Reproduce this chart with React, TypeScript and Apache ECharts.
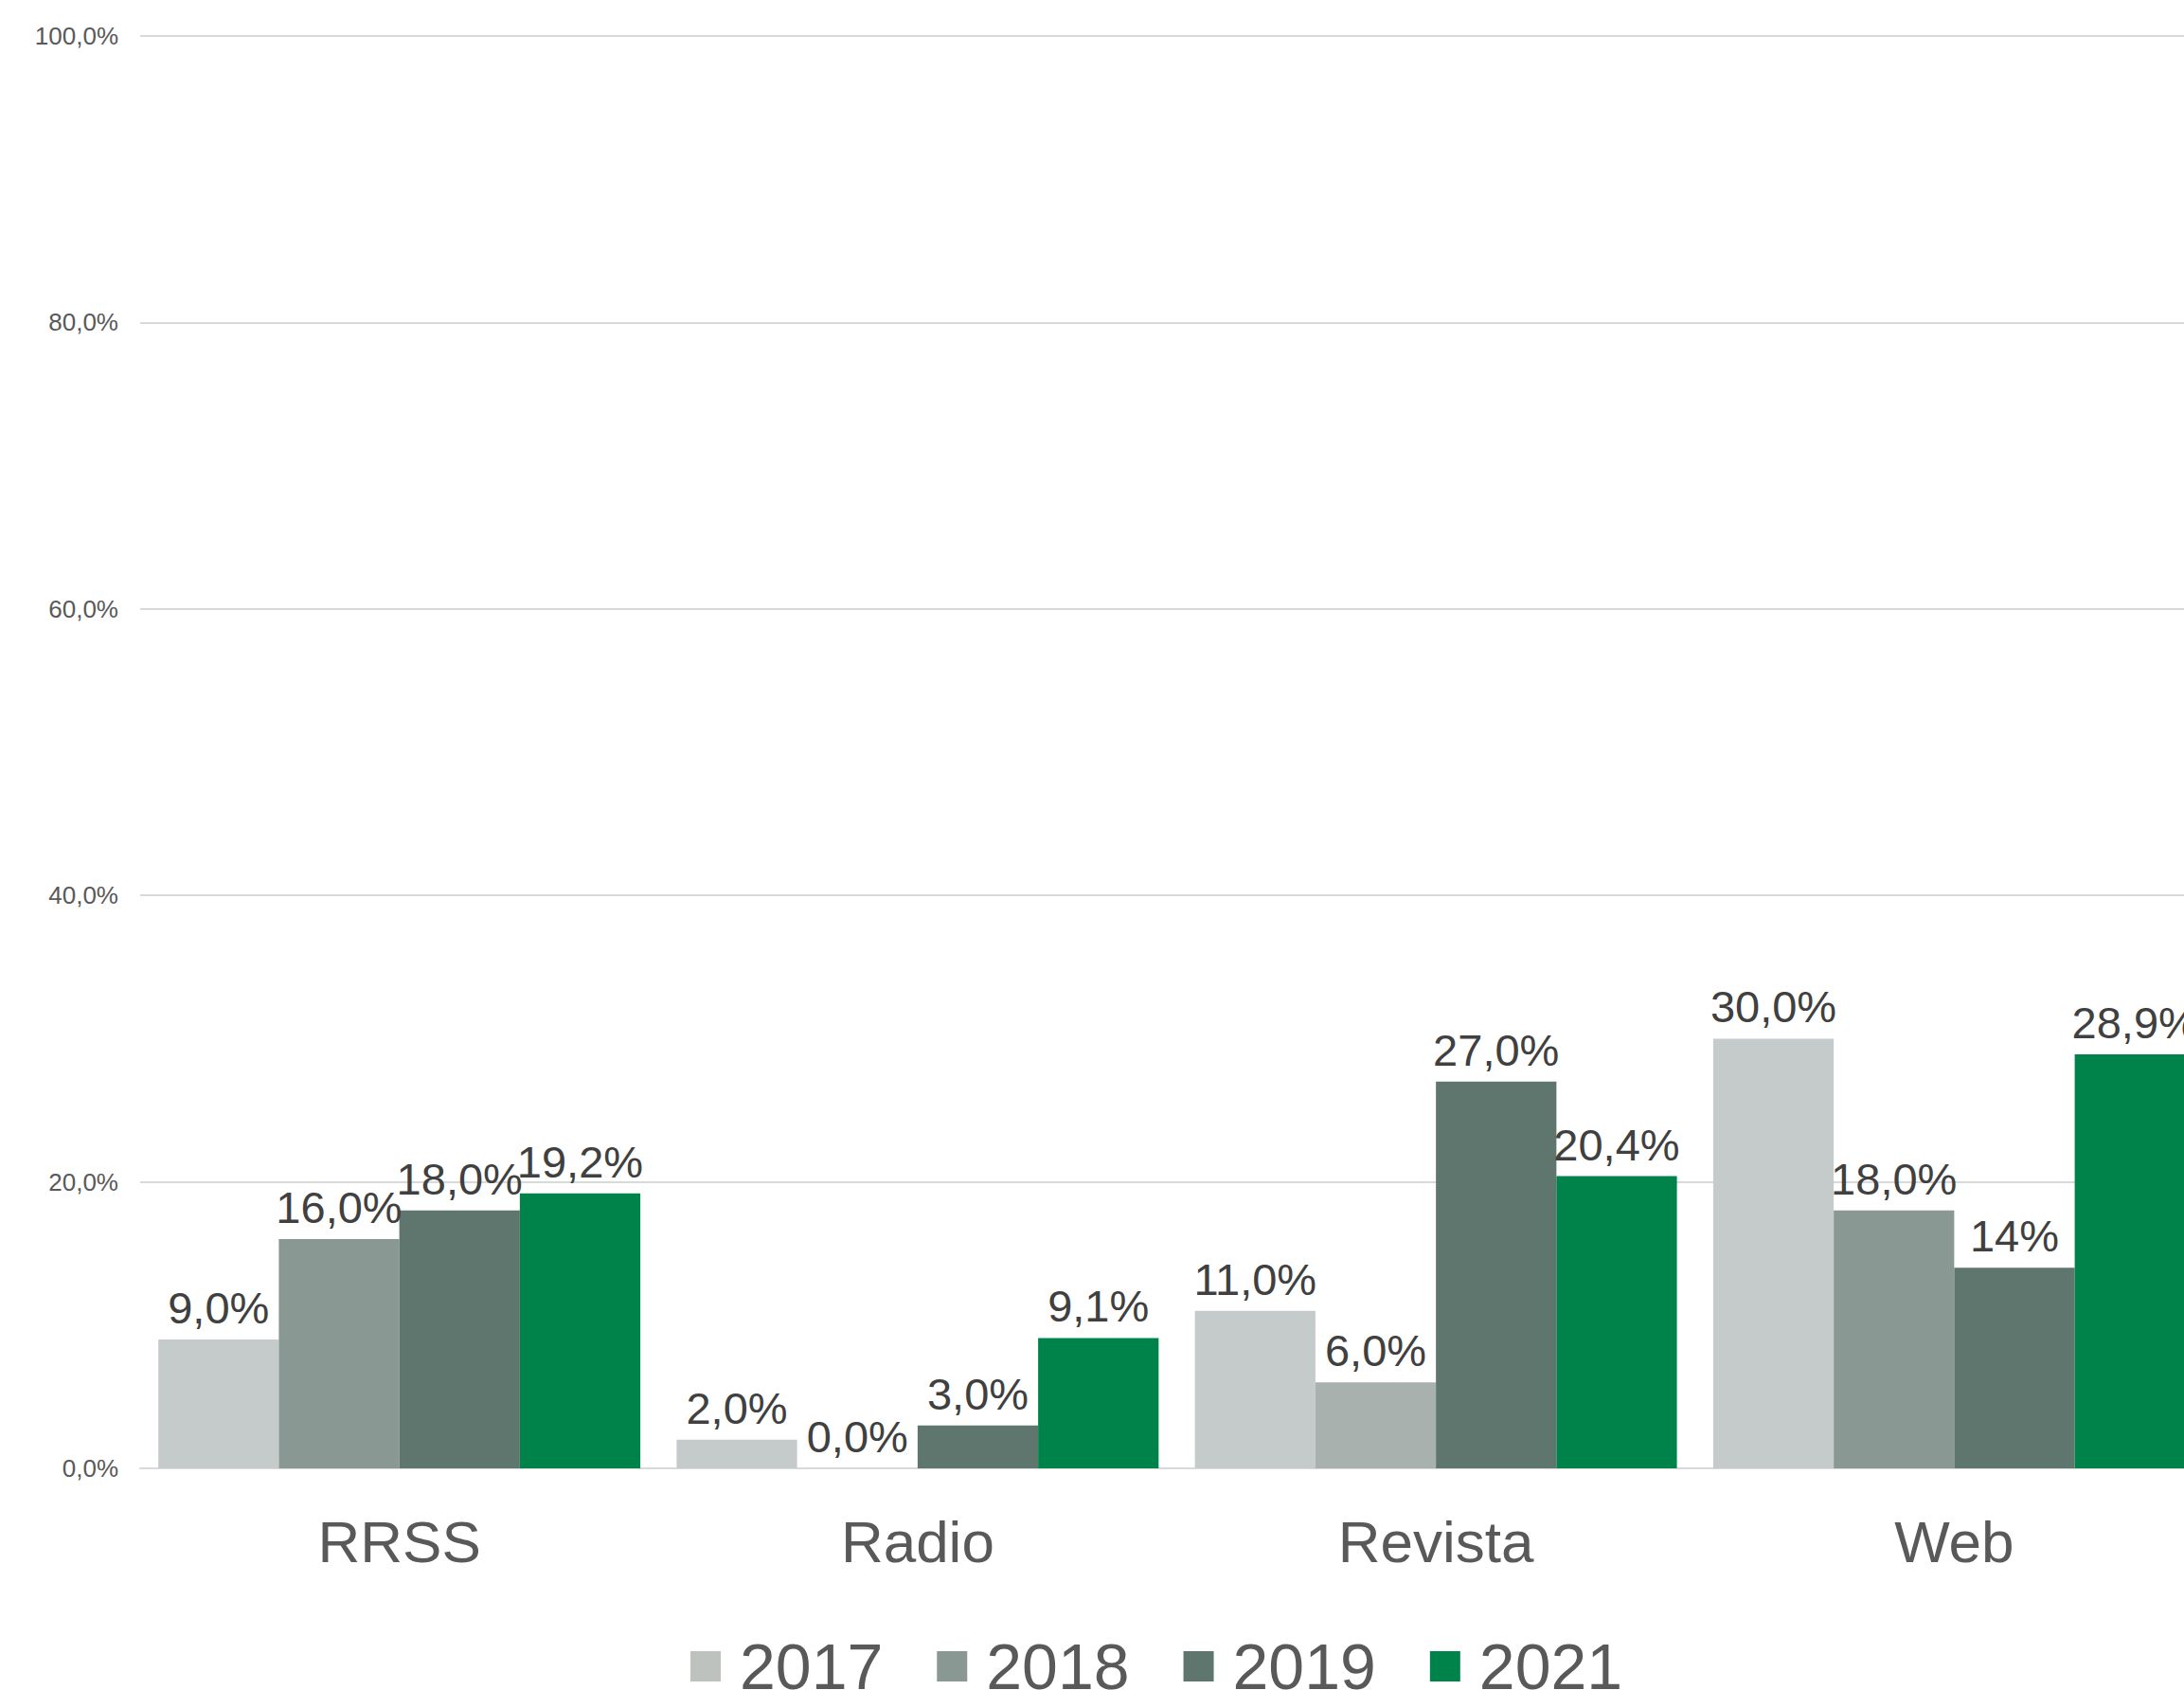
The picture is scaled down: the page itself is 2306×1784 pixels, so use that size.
import React, { useEffect, useRef } from "react";
import * as echarts from "echarts";

const categories = ["RRSS", "Radio", "Revista", "Web"];
const years = ["2017", "2018", "2019", "2021"];
const values2017 = [9.0, 2.0, 11.0, 30.0];
const values2018 = [16.0, 0.0, 6.0, 18.0];
const values2019 = [18.0, 3.0, 27.0, 14.0];
const values2021 = [19.2, 9.1, 20.4, 28.9];
// decimals shown in each data label (the original shows "14%" for Web 2019)
const decimals2019 = [1, 1, 1, 0];
const yTicks = [0, 20, 40, 60, 80, 100];

const colors = ["#C5CBCA", "#8A9894", "#5F766F", "#00834A"];
const legendColors = ["#BDC2BF", "#8A9894", "#5F766F", "#00834A"];
const revista2018Color = "#A9B1AF";

const FONT = "'Liberation Sans', Arial, sans-serif";

function fmt(v: number, d: number) {
  return v.toFixed(d).replace(".", ",") + "%";
}

export default function App() {
  const ref = useRef<HTMLDivElement>(null);
  useEffect(() => {
    document.body.style.margin = "0";
    document.body.style.overflow = "hidden";
    if (!ref.current) return;
    const chart = echarts.init(ref.current, undefined, { renderer: "svg" });
    const seriesData = [values2017, values2018, values2019, values2021];
    const series = seriesData.map((arr, si) => ({
      name: years[si],
      type: "bar",
      barGap: "0%",
      barCategoryGap: "7%",
      itemStyle: { color: colors[si] },
      data: arr.map((v, i) => {
        const item: any = { value: v };
        if (si === 1 && categories[i] === "Revista") {
          item.itemStyle = { color: revista2018Color };
        }
        return item;
      }),
      label: {
        show: true,
        position: "top",
        distance: 10,
        fontSize: 47,
        fontFamily: FONT,
        color: "#404040",
        formatter: (p: any) => {
          const d = si === 2 ? decimals2019[p.dataIndex] : 1;
          return fmt(p.value, d);
        },
      },
    }));
    chart.setOption({
      animation: false,
      backgroundColor: "#FFFFFF",
      grid: {
        left: 148,
        right: -31,
        top: 38,
        bottom: 234,
        containLabel: false,
        outerBoundsMode: "none",
      },
      legend: {
        data: years.map((y, i) => ({ name: y, itemStyle: { color: legendColors[i] } })),
        left: 729,
        top: 1725,
        padding: 0,
        itemWidth: 32,
        itemHeight: 32,
        itemGap: 57,
        icon: "rect",
        textStyle: {
          fontSize: 68,
          fontFamily: FONT,
          color: "#595959",
          padding: [0, 0, 0, 15],
        },
      },
      xAxis: {
        type: "category",
        data: categories,
        axisLine: { show: true, lineStyle: { color: "#D9D9D9", width: 2 } },
        axisTick: { show: false },
        axisLabel: {
          fontSize: 62,
          fontFamily: FONT,
          color: "#595959",
          margin: 46,
        },
      },
      yAxis: {
        type: "value",
        min: yTicks[0],
        max: yTicks[yTicks.length - 1],
        interval: yTicks[1] - yTicks[0],
        axisLine: { show: false },
        axisTick: { show: false },
        splitLine: { lineStyle: { color: "#D9D9D9", width: 2 } },
        axisLabel: {
          fontSize: 26,
          fontFamily: FONT,
          color: "#595959",
          margin: 23,
          formatter: (v: number) => fmt(v, 1),
        },
      },
      series,
    });
    return () => chart.dispose();
  }, []);
  return <div ref={ref} style={{ width: 2306, height: 1784 }} />;
}
